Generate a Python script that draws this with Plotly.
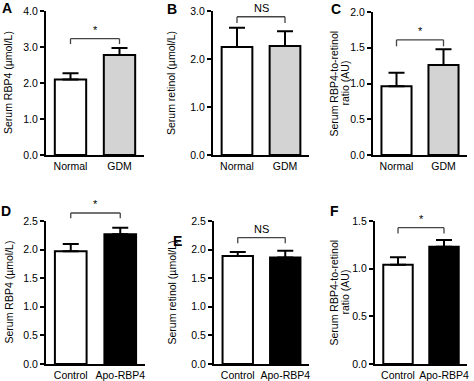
import plotly.graph_objects as go

# ---- data ----
groups_top = ["Normal", "GDM"]
groups_bot = ["Control", "Apo-RBP4"]

a_mean = [2.10, 2.78]; a_err = [0.17, 0.19]
b_mean = [2.25, 2.27]; b_err = [0.40, 0.31]
c_mean = [0.96, 1.26]; c_err = [0.19, 0.22]
d_mean = [1.97, 2.27]; d_err = [0.13, 0.11]
e_mean = [1.89, 1.86]; e_err = [0.07, 0.12]
f_mean = [1.04, 1.23]; f_err = [0.08, 0.07]

sig_labels = ["*", "NS", "*", "*", "NS", "*"]
bracket_y = [3.23, 2.88, 1.61, 2.64, 2.21, 1.43]
bracket_end = [3.08, 2.75, 1.52, 2.55, 2.11, 1.37]

y_max = [4.0, 3.0, 2.0, 2.5, 2.5, 1.5]
y_dtick = [1.0, 1.0, 0.5, 0.5, 0.5, 0.5]
y_titles = [["Serum RBP4 (µmol/L)"], ["Serum retinol (µmol/L)"],
            ["Serum RBP4-to-retinol", "ratio (AU)"],
            ["Serum RBP4 (µmol/L)"], ["Serum retinol (µmol/L)"],
            ["Serum RBP4-to-retinol", "ratio (AU)"]]
panel_letters = ["A", "B", "C", "D", "E", "F"]

top_colors = ["white", "#d3d3d3"]
bot_colors = ["white", "black"]

W, H = 474, 381
# ---- layout geometry (pixels) ----
x_px = [(46, 144), (213, 309), (373, 467), (46, 145), (214, 309), (375, 467)]
y_px = [(11, 155), (11, 155), (12, 155), (221, 364), (221, 364), (221, 364)]
title_x = [[8], [171], [333, 344], [8], [171], [333, 344]]
letter_pos = [(7, 8), (172, 9), (336, 9), (6, 211), (177, 241), (334, 211)]

means = [a_mean, b_mean, c_mean, d_mean, e_mean, f_mean]
errs = [a_err, b_err, c_err, d_err, e_err, f_err]

fig = go.Figure()
font_family = "Liberation Sans, Arial, sans-serif"

for i in range(6):
    cats = groups_top if i < 3 else groups_bot
    cols = top_colors if i < 3 else bot_colors
    xa = "x" if i == 0 else f"x{i+1}"
    ya = "y" if i == 0 else f"y{i+1}"
    fig.add_trace(go.Bar(
        x=cats, y=means[i], xaxis=xa, yaxis=ya,
        marker=dict(color=cols, line=dict(color="black", width=2)),
        error_y=dict(type="data", symmetric=False, array=errs[i],
                     arrayminus=[0, 0], color="black", thickness=2, width=8),
        width=0.64, showlegend=False, hoverinfo="skip"))
    sfx = "" if i == 0 else str(i + 1)
    x0, x1 = x_px[i]
    yt, yb = y_px[i]
    fig.update_layout(**{
        f"xaxis{sfx}": dict(domain=[x0 / W, x1 / W], anchor=ya, automargin=False,
                            showline=True, linecolor="black", linewidth=2,
                            ticks="", showgrid=False, fixedrange=True,
                            tickfont=dict(size=10.5, color="black", family=font_family)),
        f"yaxis{sfx}": dict(domain=[1 - yb / H, 1 - yt / H], anchor=xa, automargin=False,
                            range=[0, y_max[i]], dtick=y_dtick[i], tickformat=".1f",
                            showline=True, linecolor="black", linewidth=2,
                            ticks="outside", ticklen=4, tickwidth=2, tickcolor="black",
                            showgrid=False, zeroline=False, fixedrange=True,
                            tickfont=dict(size=10.5, color="black", family=font_family)),
    })
    # significance bracket
    frac = lambda v: v / y_max[i]
    yd = f"{ya} domain"
    for (xs, ys, xe, ye) in [(cats[0], frac(bracket_end[i]), cats[0], frac(bracket_y[i])),
                             (cats[0], frac(bracket_y[i]), cats[1], frac(bracket_y[i])),
                             (cats[1], frac(bracket_y[i]), cats[1], frac(bracket_end[i]))]:
        fig.add_shape(type="line", xref=xa, yref=yd, x0=xs, y0=ys, x1=xe, y1=ye,
                      line=dict(color="#444444", width=1.3))
    fig.add_annotation(x=0.5, y=frac(bracket_y[i]), xref=xa, yref=yd,
                       text=sig_labels[i], showarrow=False, yanchor="bottom",
                       xanchor="center", yshift=1,
                       font=dict(size=11, color="black", family=font_family))
    # y titles
    ymid = 1 - (yt + yb) / 2 / H
    for t, tx in zip(y_titles[i], title_x[i]):
        fig.add_annotation(x=tx / W, y=ymid, xref="paper", yref="paper",
                           text=t, textangle=-90, showarrow=False,
                           xanchor="center", yanchor="middle",
                           font=dict(size=10.5, color="black", family=font_family))
    lx, ly = letter_pos[i]
    fig.add_annotation(x=lx / W, y=1 - ly / H, xref="paper", yref="paper",
                       text=f"<b>{panel_letters[i]}</b>", showarrow=False,
                       xanchor="center", yanchor="middle",
                       font=dict(size=14, color="black", family=font_family))

fig.update_layout(width=W, height=H,
                  margin=dict(l=0, r=0, t=0, b=0, pad=0, autoexpand=False),
                  paper_bgcolor="white", plot_bgcolor="white",
                  bargap=0.36, font=dict(family=font_family, color="black"))

fig.write_html("out.html", config={"displayModeBar": False, "staticPlot": True},
               post_script="document.body.style.margin='0';document.body.style.overflow='hidden';")
